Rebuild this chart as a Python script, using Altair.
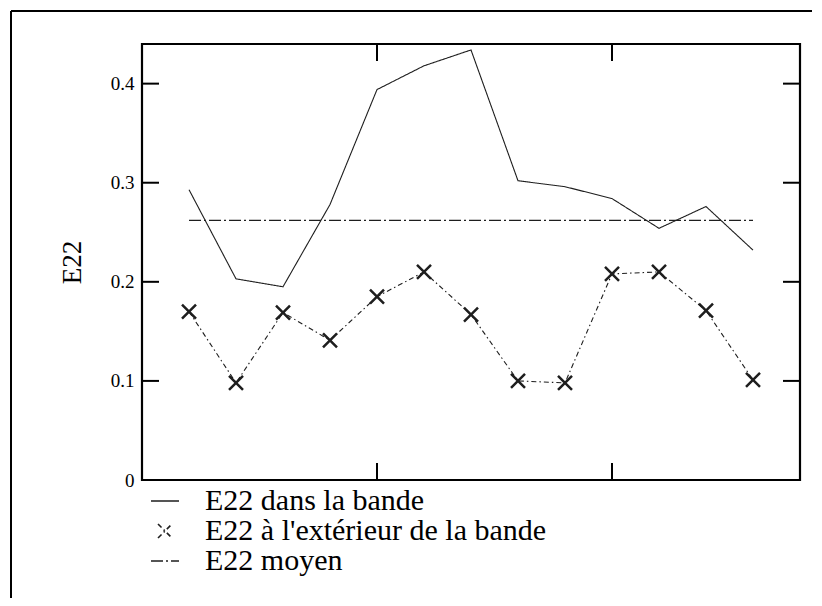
import altair as alt
import pandas as pd

# ---- data ----
x_idx = [1, 2, 3, 4, 5, 6, 7, 8, 9, 10, 11, 12, 13]
bande = [0.293, 0.203, 0.195, 0.278, 0.394, 0.418, 0.434, 0.302, 0.296, 0.284, 0.254, 0.276, 0.232]
exterieur = [0.170, 0.098, 0.169, 0.141, 0.185, 0.210, 0.167, 0.100, 0.098, 0.208, 0.210, 0.171, 0.101]
moyen_x = [1, 13]
moyen_val = [0.262, 0.262]
y_tick_vals = [0.1, 0.2, 0.3, 0.4]
y_label_vals = [0, 0.1, 0.2, 0.3, 0.4]
x_tick_vals = [5, 10]

S1 = "E22 dans la bande"
S2 = "E22 à l'extérieur de la bande"
S3 = "E22 moyen"
series = [S1, S2, S3]

W, H = 658, 436
FONT = "'Liberation Serif', 'DejaVu Serif', 'Times New Roman', serif"
INK = "#1e1e1e"
XPATH = "M-0.5,-0.5L0.5,0.5M-0.5,0.5L0.5,-0.5"

rows = []
for xv, v in zip(x_idx, bande):
    rows.append({"x": xv, "value": v, "series": S1})
for xv, v in zip(x_idx, exterieur):
    rows.append({"x": xv, "value": v, "series": S2})
for xv, v in zip(moyen_x, moyen_val):
    rows.append({"x": xv, "value": v, "series": S3})
df = pd.DataFrame(rows)
df_ext = df[df.series == S2]

xscale = alt.Scale(domain=[0, 14], nice=False, zero=False)
yscale = alt.Scale(domain=[0, 0.44], nice=False)

yaxis = alt.Axis(
    values=y_label_vals, domain=False, ticks=False, grid=False,
    labelFont=FONT, labelFontSize=19, labelColor="black", labelPadding=8,
    labelExpr="datum.value == 0 ? '0' : format(datum.value, '.1f')",
    title="E22", titleFont=FONT, titleFontSize=27, titleFontWeight="normal",
    titleColor="black", titlePadding=24,
)

leg = alt.Legend(
    orient="none", legendX=8, legendY=442, direction="vertical", title=None,
    labelFont=FONT, labelFontSize=30, labelColor="black", labelOffset=25,
    symbolSize=784, symbolStrokeWidth=1.6, rowPadding=-1, padding=0,
    labelLimit=600,
)

color = alt.Color("series:N", scale=alt.Scale(domain=series, range=[INK, INK, INK]), legend=leg)

lines = alt.Chart(df).mark_line(strokeWidth=1.1).encode(
    x=alt.X("x:Q", scale=xscale, axis=None),
    y=alt.Y("value:Q", scale=yscale, axis=yaxis),
    color=color,
    strokeDash=alt.StrokeDash(
        "series:N",
        scale=alt.Scale(domain=series, range=[[1, 0], [5, 3, 1.5, 3], [12, 3, 2, 3]]),
        legend=leg,
    ),
    order="x:Q",
)

points = alt.Chart(df_ext).mark_point(filled=False, size=784, strokeWidth=2.5, opacity=1).encode(
    x=alt.X("x:Q", scale=xscale, axis=None),
    y=alt.Y("value:Q", scale=yscale, axis=yaxis),
    color=color,
    shape=alt.Shape(
        "series:N",
        scale=alt.Scale(domain=series, range=["stroke", XPATH, "stroke"]),
        legend=leg,
    ),
)

ytick_df = pd.DataFrame({"value": y_tick_vals})
xtick_df = pd.DataFrame({"x": x_tick_vals})

ytl = alt.Chart(ytick_df).mark_rule(strokeWidth=2, color="black").encode(
    y=alt.Y("value:Q", scale=yscale, axis=yaxis), x=alt.value(0), x2=alt.value(17))
ytr = alt.Chart(ytick_df).mark_rule(strokeWidth=2, color="black").encode(
    y=alt.Y("value:Q", scale=yscale, axis=yaxis), x=alt.value(W - 17), x2=alt.value(W))
xtt = alt.Chart(xtick_df).mark_rule(strokeWidth=2, color="black").encode(
    x=alt.X("x:Q", scale=xscale, axis=None), y=alt.value(0), y2=alt.value(17))
xtb = alt.Chart(xtick_df).mark_rule(strokeWidth=2, color="black").encode(
    x=alt.X("x:Q", scale=xscale, axis=None), y=alt.value(H - 17), y2=alt.value(H))

frame_df = pd.DataFrame({"k": [0]})
frame_left = alt.Chart(frame_df).mark_rule(strokeWidth=2, color="black").encode(
    x=alt.value(-131), y=alt.value(-33), y2=alt.value(560))
frame_top = alt.Chart(frame_df).mark_rule(strokeWidth=2, color="black").encode(
    x=alt.value(-131), x2=alt.value(670), y=alt.value(-33))

chart = alt.layer(lines, points, ytl, ytr, xtt, xtb, frame_left, frame_top).properties(
    width=W, height=H,
    autosize=alt.AutoSizeParams(type="none"),
    padding={"left": 134, "top": 36, "right": 14, "bottom": 118},
).configure(background="white").configure_view(stroke="black", strokeWidth=2.2)

chart.save("out.html", embed_options={"renderer": "svg", "actions": False})
